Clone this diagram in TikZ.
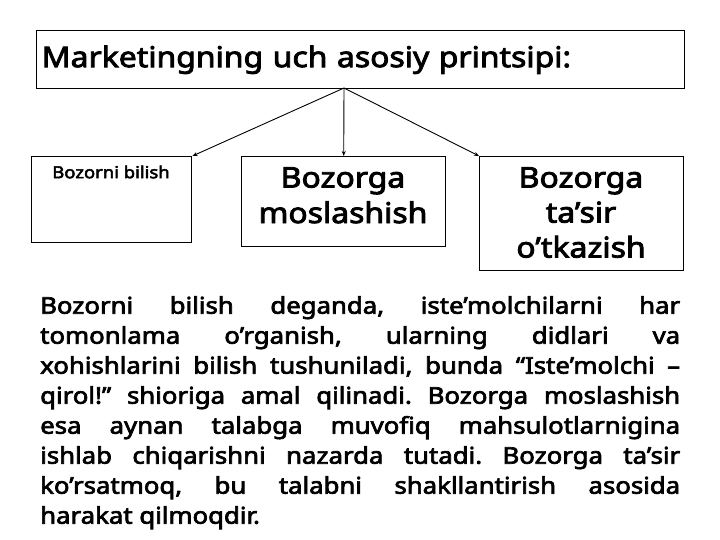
\documentclass[tikz,border=0pt]{standalone}
\usepackage{fontspec}
\setmainfont{Noto Sans}[BoldFont={Noto Sans}, BoldFeatures={FakeBold=3, FakeStretch=1.12}]
\usepackage{tikz}
\usetikzlibrary{arrows.meta}

\tikzset{
  box/.style={draw=black, line width=1.4pt, rectangle, inner sep=0pt},
  boxtext/.style={inner sep=0pt, anchor=north, align=center,
                  font=\fontsize{28.5}{35.5}\selectfont\bfseries},
  link/.style={draw=black, line width=0.9pt, -{Stealth[length=5pt,width=4pt]}}
}

\begin{document}
\begin{tikzpicture}[x=1pt, y=-1pt]
  \useasboundingbox[fill=white] (0,0) rectangle (720,540);

  % top box
  \node[box, anchor=north west, minimum width=648, minimum height=58,
        text width=638, align=left, inner xsep=5pt,
        font=\fontsize{28.5}{34}\selectfont\bfseries] (title) at (36,30)
        {Marketingning uch asosiy printsipi:};
  \coordinate (hub) at (344,88);

  % three principles
  \node[box, anchor=north west, minimum width=160, minimum height=86] (bilish) at (31,156) {};
  \node[font=\fontsize{16.5}{20}\selectfont\bfseries] (bilishtext) at (111,172) {Bozorni bilish};

  \node[box, anchor=north west, minimum width=204, minimum height=90] (moslash) at (241,156) {};
  \node[boxtext] (moslashtext) at (343,167) {Bozorga\\moslashish};

  \node[box, anchor=north west, minimum width=204, minimum height=114] (tasir) at (479,156) {};
  \node[boxtext, font=\fontsize{28.5}{35}\selectfont\bfseries] (tasirtext) at (581,167)
        {Bozorga\\ta’sir\\o’tkazish};

  \draw[link] (hub) -- (bilish.north east);
  \draw[link] (hub) -- (moslash.north);
  \draw[link] (hub) -- (tasir.north west);

  % explanation
  \node[anchor=north west, inner sep=0pt, text width=640, align=justify,
        font=\fontsize{23}{30}\selectfont\bfseries] (matn) at (40,296)
  {\frenchspacing\hyphenpenalty=10000\tolerance=9999\emergencystretch=20pt
   Bozorni bilish deganda, iste’molchilarni har\linebreak
   tomonlama o’rganish, ularning didlari va\linebreak
   xohishlarini bilish tushuniladi, bunda “Iste’molchi –\linebreak
   qirol!” shioriga amal qilinadi. Bozorga moslashish\linebreak
   esa aynan talabga muvofiq mahsulotlarnigina\linebreak
   ishlab chiqarishni nazarda tutadi. Bozorga ta’sir\linebreak
   ko’rsatmoq, bu talabni shakllantirish asosida\linebreak
   harakat qilmoqdir.};
\end{tikzpicture}
\end{document}
